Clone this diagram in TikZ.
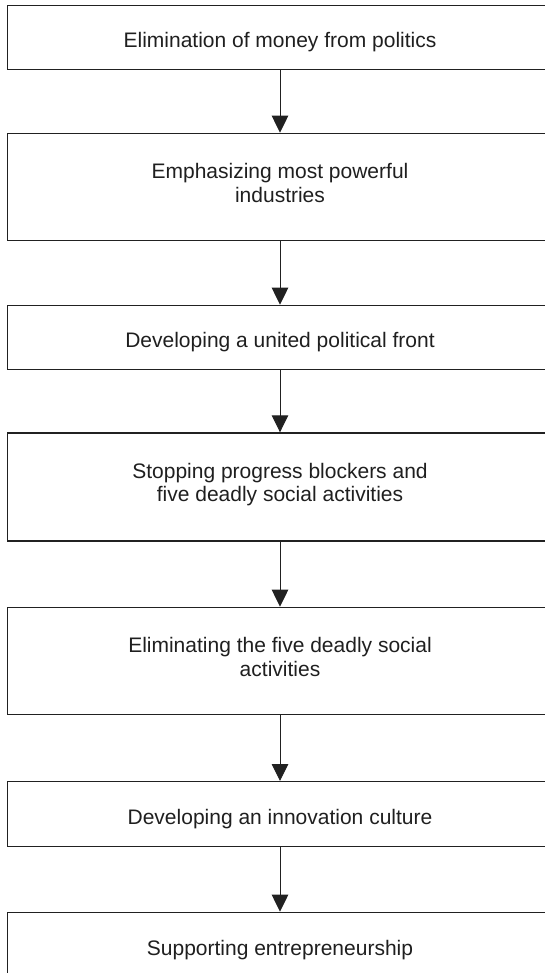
\documentclass[tikz,border=0pt]{standalone}
\usepackage{fontspec}
\setmainfont{Liberation Sans}
\usetikzlibrary{arrows.meta}
\definecolor{boxline}{gray}{0.13}
\definecolor{textcol}{gray}{0.12}
\begin{document}
\begin{tikzpicture}[x=1pt, y=-1pt,
  stepbox/.style={rectangle, draw=boxline, line width=1.3pt, minimum width=560pt,
                  inner sep=0pt, anchor=north west},
  lbl/.style={font=\fontsize{21}{23.4}\selectfont, text=textcol, align=center,
              inner sep=0pt, anchor=base},
  flow/.style={draw=boxline, line width=0.95pt,
               -{Triangle[width=16.5pt,length=17pt]}}]

\useasboundingbox (0,0) rectangle (545,973);
\clip (0,0) rectangle (545,973);

% process steps (they run past the right and bottom edges)
\node[stepbox, minimum height=64.3pt]  (b1) at (7,4.7)   {};
\node[stepbox, minimum height=107.5pt] (b2) at (7,132.7) {};
\node[stepbox, minimum height=64.3pt]  (b3) at (7,304.7) {};
\node[stepbox, minimum height=108pt]   (b4) at (7,432.3) {};
\node[stepbox, minimum height=107.3pt] (b5) at (7,606.7) {};
\node[stepbox, minimum height=65pt]    (b6) at (7,781)   {};
\node[stepbox, minimum height=100pt]   (b7) at (7,911.7) {};

% centre line of the flow
\coordinate (axis) at (280,0);

% step labels (base = last line)
\node[lbl] (t1) at (axis |- 0,47.7)  {Elimination of money from politics};
\node[lbl] (t2) at (axis |- 0,202.1) {Emphasizing most powerful\\industries};
\node[lbl] (t3) at (axis |- 0,347.7) {Developing a united political front};
\node[lbl] (t4) at (axis |- 0,501.7) {Stopping progress blockers and\\five deadly social activities};
\node[lbl] (t5) at (axis |- 0,676.1) {Eliminating the five deadly social\\activities};
\node[lbl] (t6) at (axis |- 0,824.2) {Developing an innovation culture};
\node[lbl] (t7) at (axis |- 0,955)   {Supporting entrepreneurship};

% flow between steps
\draw[flow] (b1.south -| axis) -- (b2.north -| axis);
\draw[flow] (b2.south -| axis) -- (b3.north -| axis);
\draw[flow] (b3.south -| axis) -- (b4.north -| axis);
\draw[flow] (b4.south -| axis) -- (b5.north -| axis);
\draw[flow] (b5.south -| axis) -- (b6.north -| axis);
\draw[flow] (b6.south -| axis) -- (b7.north -| axis);
\end{tikzpicture}
\end{document}
